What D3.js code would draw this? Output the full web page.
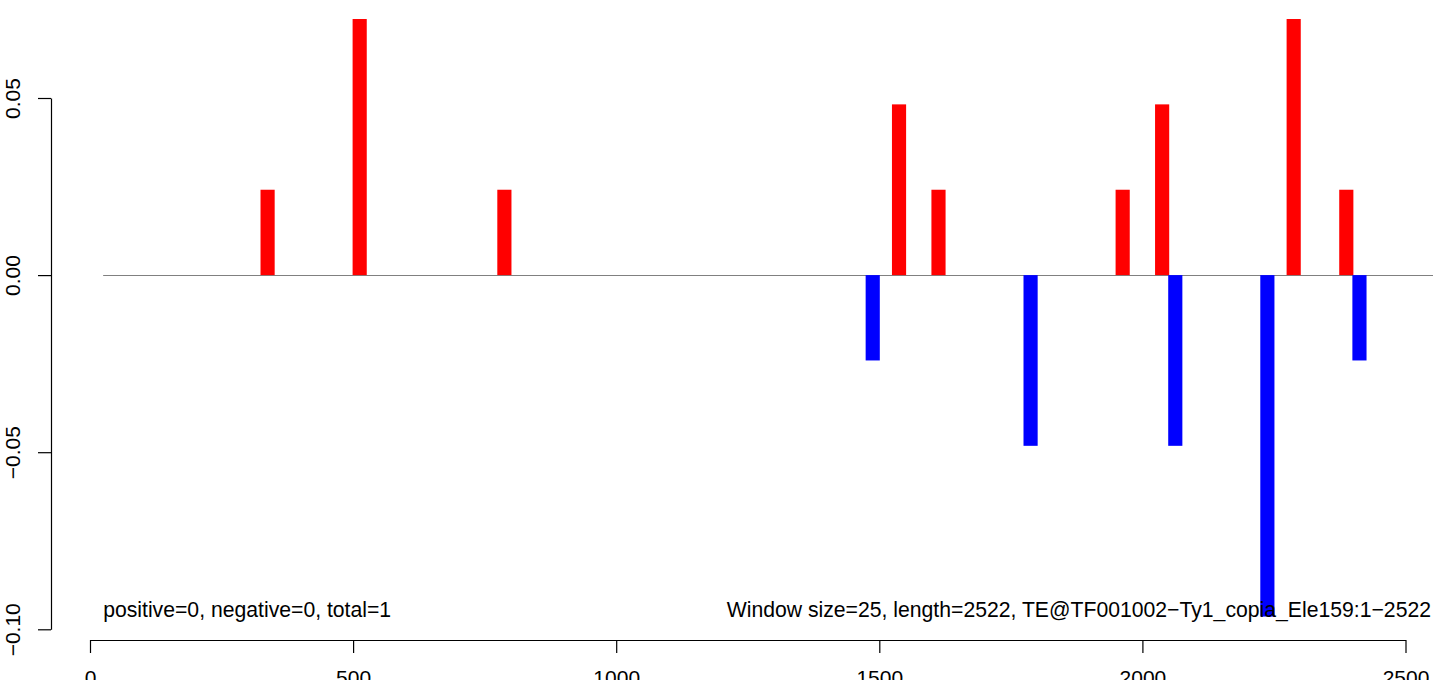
<!DOCTYPE html>
<html>
<head>
<meta charset="utf-8">
<script src="https://cdn.jsdelivr.net/npm/d3@7"></script>
<style>
  html, body { margin: 0; padding: 0; background: #ffffff; }
  svg { display: block; }
  text { font-family: "Liberation Sans", Arial, Helvetica, sans-serif; }
</style>
</head>
<body>
<script>
// ---- data ----
const windowSize = 25;
const seqLength = 2522;
const positions = [337.5, 512.5, 787.5, 1487.5, 1537.5, 1612.5, 1787.5, 1962.5, 2037.5, 2062.5, 2237.5, 2287.5, 2387.5, 2412.5];
const values    = [0.0241, 0.0723, 0.0241, -0.0241, 0.0482, 0.0241, -0.0482, 0.0241, 0.0482, -0.0482, -0.0964, 0.0723, 0.0241, -0.0241];
const xTicks = [0, 500, 1000, 1500, 2000, 2500];
const yTicks = [0.05, 0.00, -0.05, -0.10];
const yTickLabels = ["0.05", "0.00", "\u22120.05", "\u22120.10"];
const leftNote = "positive=0, negative=0, total=1";
const rightNote = "Window size=25, length=2522, TE@TF001002\u2212Ty1_copia_Ele159:1\u22122522";
const baselineExtent = [25, 2600];

// ---- layout ----
const W = 1433, H = 680;
const svg = d3.select("body").append("svg").attr("width", W).attr("height", H);

const x = d3.scaleLinear().domain([0, 2500]).range([90, 1405.5]);
const y = d3.scaleLinear().domain([-0.10, 0.05]).range([629.3, 98]);
const axisX = 51, axisY = 640;
const barW = x(windowSize) - x(0) + 1;

// zero baseline
svg.append("line")
  .attr("x1", x(baselineExtent[0])).attr("x2", x(baselineExtent[1]))
  .attr("y1", Math.round(y(0)) + 0.5).attr("y2", Math.round(y(0)) + 0.5)
  .attr("stroke", "#808080").attr("stroke-width", 1);

// bars
const data = positions.map((p, i) => ({ p, v: values[i] }));
svg.append("g").selectAll("rect").data(data).join("rect")
  .attr("x", d => x(d.p) - barW / 2)
  .attr("width", barW)
  .attr("y", d => Math.min(y(d.v), y(0)))
  .attr("height", d => Math.abs(y(d.v) - y(0)))
  .attr("fill", d => d.v >= 0 ? "#ff0000" : "#0000ff");

// y axis
const gy = svg.append("g").attr("transform", `translate(${axisX},0)`)
  .call(d3.axisLeft(y).tickValues(yTicks).tickSize(13).tickSizeOuter(0)
    .tickFormat((d, i) => yTickLabels[i]));
gy.selectAll("path, line").attr("stroke", "#000").attr("stroke-width", 1.2);
gy.selectAll("text")
  .attr("transform", "rotate(-90)")
  .attr("x", 0).attr("y", -31).attr("dy", 0)
  .attr("text-anchor", "middle")
  .attr("fill", "#000")
  .style("font-size", "21px");

// x axis
const gx = svg.append("g").attr("transform", `translate(0,${axisY})`)
  .call(d3.axisBottom(x).tickValues(xTicks).tickSize(13).tickSizeOuter(0).tickFormat(d3.format("d")));
gx.selectAll("path, line").attr("stroke", "#000").attr("stroke-width", 1.2);
gx.selectAll("text")
  .attr("y", 45).attr("dy", 0)
  .attr("fill", "#000")
  .style("font-size", "21px");
svg.selectAll(".domain").attr("fill", "none");

// annotations
svg.append("text")
  .attr("x", x(windowSize)).attr("y", 617)
  .attr("font-size", 21.2).attr("fill", "#000")
  .text(leftNote);
svg.append("text")
  .attr("x", 1431).attr("y", 617)
  .attr("text-anchor", "end")
  .attr("font-size", 21.2).attr("fill", "#000")
  .text(rightNote);
</script>
</body>
</html>
